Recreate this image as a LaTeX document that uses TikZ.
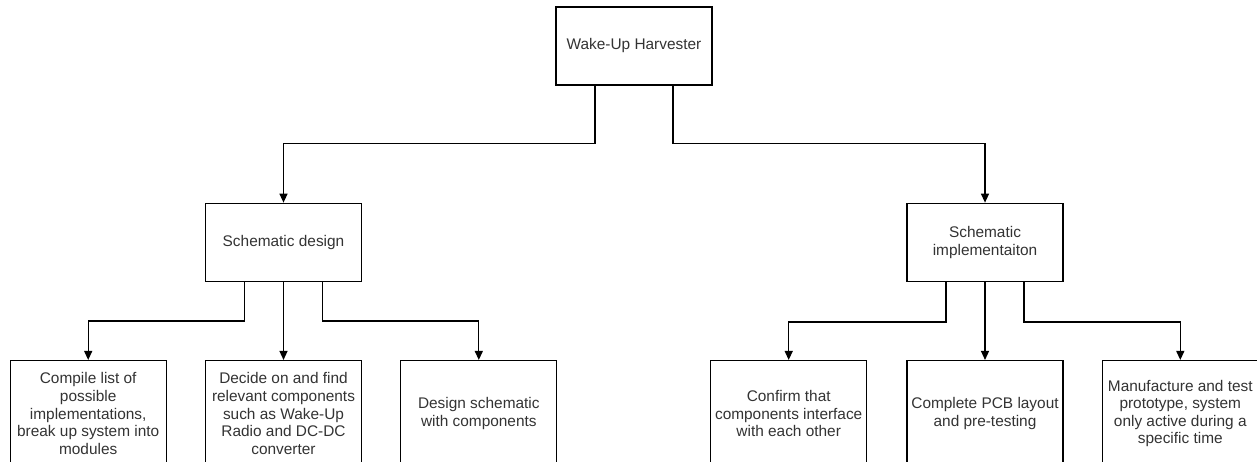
\documentclass[tikz,border=0pt]{standalone}
\usepackage{fontspec}
\setmainfont{Liberation Sans}
\usetikzlibrary{arrows.meta,positioning}

\begin{document}
\begin{tikzpicture}[
    x=1pt, y=-1pt,
    node distance=38pt,
    box/.style={rectangle, draw, line width=1.3pt, fill=white, minimum width=156pt, minimum height=78pt, inner sep=2pt, align=center, text=black!80, font=\fontsize{15.4}{17.6}\selectfont},
    leaf/.style={box, minimum height=106pt},
    arrow/.style={-{Triangle[width=8pt,length=9pt]}, line width=1.3pt}
]
    \useasboundingbox (0,0) rectangle (1257,461);

    % root
    \node[box] (root) at (634,46) {Wake-Up Harvester};

    % second level
    \node[box, below=117pt of root, xshift=-350.5pt] (design) {Schematic design};
    \node[box, below=117pt of root, xshift=351pt] (impl) {Schematic\\implementaiton};

    % design tasks
    \node[leaf, below=78pt of design] (d2) {Decide on and find\\relevant components\\such as Wake-Up\\Radio and DC-DC\\converter};
    \node[leaf, left=38pt of d2] (d1) {Compile list of\\possible\\implementations,\\break up system into\\modules};
    \node[leaf, right=38pt of d2] (d3) {Design schematic\\with components};

    % implementation tasks
    \node[leaf, below=78pt of impl] (i2) {Complete PCB layout\\and pre-testing};
    \node[leaf, left=39pt of i2] (i1) {Confirm that\\components interface\\with each other};
    \node[leaf, right=38pt of i2] (i3) {Manufacture and test\\prototype, system\\only active during a\\specific time};

    % connectors
    \draw[arrow] ([xshift=-39pt]root.south) |- ++(0,58) -| (design.north);
    \draw[arrow] ([xshift=39pt]root.south) |- ++(0,58) -| (impl.north);

    \draw[arrow] ([xshift=-39pt]design.south) |- ++(0,39) -| (d1.north);
    \draw[arrow] (design.south) -- (d2.north);
    \draw[arrow] ([xshift=39pt]design.south) |- ++(0,39) -| (d3.north);

    \draw[arrow] ([xshift=-39pt]impl.south) |- ++(0,40) -| (i1.north);
    \draw[arrow] (impl.south) -- (i2.north);
    \draw[arrow] ([xshift=39pt]impl.south) |- ++(0,40) -| (i3.north);
\end{tikzpicture}
\end{document}
